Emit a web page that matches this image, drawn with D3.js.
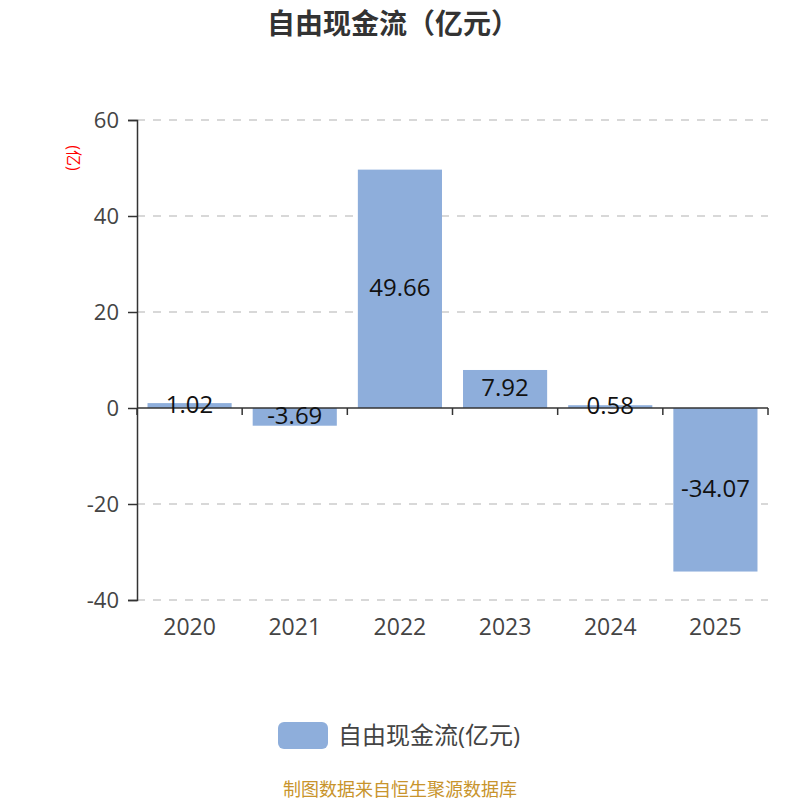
<!DOCTYPE html>
<html>
<head>
<meta charset="utf-8">
<script src="https://cdn.jsdelivr.net/npm/d3@7"></script>
<style>
  body { margin: 0; background: #fff; }
  text { font-family: "Open Sans", "Noto Sans CJK SC", sans-serif; }
</style>
</head>
<body>
<div id="chart"></div>
<script>
// chart data
let years = ["2020", "2021", "2022", "2023", "2024", "2025"];
let values = [1.02, -3.69, 49.66, 7.92, 0.58, -34.07];
let yTicks = [-40, -20, 0, 20, 40, 60];

let width = 800;
let height = 800;
let margin = { top: 120, right: 32, bottom: 200, left: 137 };

let svg = d3.select("#chart")
  .append("svg")
  .attr("width", width)
  .attr("height", height);

let xScale = d3.scaleBand()
  .domain(years)
  .range([margin.left, width - margin.right])
  .paddingInner(0.2)
  .paddingOuter(0.1);

let yScale = d3.scaleLinear()
  .domain([-40, 60])
  .range([height - margin.bottom, margin.top]);

// title
svg.append("text")
  .attr("x", 393)
  .attr("y", 34)
  .attr("text-anchor", "middle")
  .style("font-size", "28px")
  .style("font-weight", "bold")
  .style("fill", "#333")
  .text("自由现金流（亿元）");

// dashed grid lines
svg.append("g")
  .selectAll("line")
  .data(yTicks.filter(function(d) { return d !== 0; }))
  .enter()
  .append("line")
  .attr("x1", margin.left)
  .attr("x2", width - margin.right)
  .attr("y1", function(d) { return yScale(d); })
  .attr("y2", function(d) { return yScale(d); })
  .attr("stroke", "#ccc")
  .attr("stroke-width", 1.5)
  .attr("stroke-dasharray", "8,8");

// bars
svg.append("g")
  .selectAll("rect")
  .data(values)
  .enter()
  .append("rect")
  .attr("x", function(d, i) { return xScale(years[i]); })
  .attr("y", function(d) { return yScale(Math.max(0, d)); })
  .attr("width", xScale.bandwidth())
  .attr("height", function(d) { return Math.abs(yScale(d) - yScale(0)); })
  .attr("fill", "#8eaedb");

// y-axis
let yAxis = svg.append("g")
  .attr("transform", "translate(" + margin.left + ",0)")
  .call(d3.axisLeft(yScale)
    .tickValues(yTicks)
    .tickFormat(function(d) { return String(d); })
    .tickSize(9)
    .tickPadding(9));
yAxis.select(".domain").attr("stroke", "#333").attr("stroke-width", 1.5);
yAxis.selectAll(".tick line").attr("stroke", "#333").attr("stroke-width", 1.5);
yAxis.selectAll("text")
  .style("font-size", "22px")
  .style("fill", "#444");

// x-axis on zero
let xAxis = svg.append("g")
  .attr("transform", "translate(0," + yScale(0) + ")");
xAxis.append("line")
  .attr("x1", margin.left)
  .attr("x2", width - margin.right)
  .attr("stroke", "#333")
  .attr("stroke-width", 1.5);
let step = xScale.step();
let boundaries = d3.range(years.length + 1).map(function(i) {
  return margin.left + i * step;
});
xAxis.selectAll(".xtick")
  .data(boundaries)
  .enter()
  .append("line")
  .attr("x1", function(d) { return d; })
  .attr("x2", function(d) { return d; })
  .attr("y1", 0)
  .attr("y2", 7)
  .attr("stroke", "#333")
  .attr("stroke-width", 1.5);

// year labels at the bottom
svg.append("g")
  .selectAll("text")
  .data(years)
  .enter()
  .append("text")
  .attr("x", function(d) { return xScale(d) + xScale.bandwidth() / 2; })
  .attr("y", 635)
  .attr("text-anchor", "middle")
  .style("font-size", "23px")
  .style("fill", "#444")
  .text(function(d) { return d; });

// value labels inside bars
svg.append("g")
  .selectAll("text")
  .data(values)
  .enter()
  .append("text")
  .attr("x", function(d, i) { return xScale(years[i]) + xScale.bandwidth() / 2; })
  .attr("y", function(d) { return (yScale(d) + yScale(0)) / 2; })
  .attr("dy", "0.3em")
  .attr("text-anchor", "middle")
  .style("font-size", "24px")
  .style("fill", "#111")
  .text(function(d) { return d.toFixed(2); });

// y-axis unit label
svg.append("text")
  .attr("transform", "translate(68,158) rotate(90)")
  .attr("text-anchor", "middle")
  .style("font-size", "16px")
  .style("fill", "red")
  .text("(亿)");

// legend
svg.append("rect")
  .attr("x", 278)
  .attr("y", 722)
  .attr("width", 50)
  .attr("height", 27)
  .attr("rx", 6)
  .attr("fill", "#8eaedb");
svg.append("text")
  .attr("x", 338)
  .attr("y", 736)
  .attr("dy", "0.35em")
  .style("font-size", "24px")
  .style("fill", "#444")
  .text("自由现金流(亿元)");

// source footer
svg.append("text")
  .attr("x", width / 2)
  .attr("y", 796)
  .attr("text-anchor", "middle")
  .style("font-size", "18px")
  .style("fill", "#c8942c")
  .text("制图数据来自恒生聚源数据库");
</script>
</body>
</html>
